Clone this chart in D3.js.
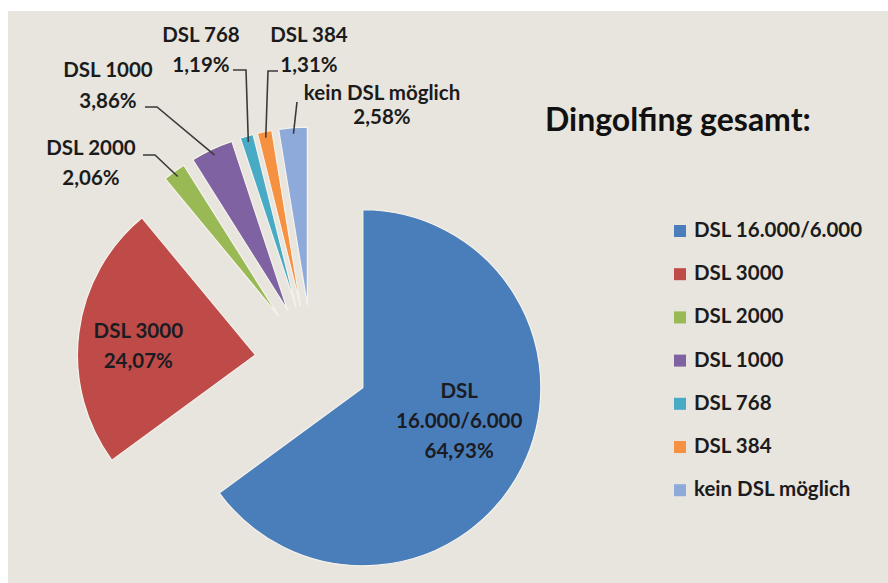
<!DOCTYPE html>
<html>
<head>
<meta charset="utf-8">
<script src="https://cdn.jsdelivr.net/npm/d3@7"></script>
<style>
  html, body { margin: 0; padding: 0; background: #fff; }
  svg text { font-family: Lato, "Open Sans", sans-serif; font-weight: bold; }
</style>
</head>
<body>
<div id="chart"></div>
<script>
// data
var categories = ["DSL 16.000/6.000", "DSL 3000", "DSL 2000", "DSL 1000", "DSL 768", "DSL 384", "kein DSL möglich"];
var shares = [64.93, 24.07, 2.06, 3.86, 1.19, 1.31, 2.58];
var shareLabels = ["64,93%", "24,07%", "2,06%", "3,86%", "1,19%", "1,31%", "2,58%"];
var colors = ["#4a7ebb", "#be4b48", "#98b954", "#7e62a1", "#47abc6", "#f69142", "#8eaadb"];
var title = "Dingolfing gesamt:";

var width = 888, height = 583;
var fontSize = 20.5;

var svg = d3.select("#chart")
    .append("svg")
    .attr("width", width)
    .attr("height", height);

// beige chart area
svg.append("rect")
    .attr("x", 8).attr("y", 11)
    .attr("width", width - 8).attr("height", height - 11)
    .attr("fill", "#e8e5de");

//pie
var cx = 312, cy = 362;
var radius = 178;
var explode = 57;

var pie = d3.pie().sort(null).value(function(d) { return d; });
var arcs = pie(shares);
var arc = d3.arc().innerRadius(0).outerRadius(radius);

function midDir(a) {
    var m = (a.startAngle + a.endAngle) / 2;
    return [Math.sin(m), -Math.cos(m)];
}

var slices = svg.append("g").attr("transform", "translate(" + cx + "," + cy + ")");

slices.selectAll("path")
    .data(arcs)
    .enter()
    .append("path")
    .attr("d", arc)
    .attr("transform", function(d) {
        var u = midDir(d);
        return "translate(" + (u[0] * explode) + "," + (u[1] * explode) + ")";
    })
    .attr("fill", function(d, i) { return colors[i]; })
    .attr("stroke", "#f6f3ed")
    .attr("stroke-width", 1.2);

// labels inside the two big slices
function innerLabel(i, lines, r, dy) {
    var u = midDir(arcs[i]);
    var x = cx + u[0] * (explode + r);
    var y = cy + u[1] * (explode + r) + dy;
    var t = svg.append("text")
        .attr("text-anchor", "middle")
        .attr("fill", "#1b1b22")
        .attr("font-size", fontSize);
    lines.forEach(function(s, k) {
        t.append("tspan").attr("x", x).attr("y", y + k * 30).text(s);
    });
}
innerLabel(0, ["DSL", "16.000/6.000", shareLabels[0]], 108, -39);
innerLabel(1, [categories[1], shareLabels[1]], 118, -2);

// outside labels for the thin slices, with leader lines
var outside = [
    {i: 2, x: 91,  y: 155, gap: 30, elbow: [[143, 155], [155, 155]]},
    {i: 3, x: 108, y: 77,  gap: 31, elbow: [[145, 107], [157, 107]]},
    {i: 4, x: 201, y: 42,  gap: 30, elbow: [[233, 70], [246, 70]]},
    {i: 5, x: 309, y: 42,  gap: 30, elbow: [[278, 71], [268, 71]]},
    {i: 6, x: 382, y: 100, gap: 24, elbow: [[297, 102]]}
];

outside.forEach(function(o) {
    var a = arcs[o.i];
    var u = midDir(a);
    var end = [cx + u[0] * (explode + radius - 6), cy + u[1] * (explode + radius - 6)];
    var pts = o.elbow.concat([end]);
    svg.append("path")
        .attr("d", d3.line()(pts))
        .attr("fill", "none")
        .attr("stroke", "#3a3a3a")
        .attr("stroke-width", 1.6);

    var t = svg.append("text")
        .attr("text-anchor", "middle")
        .attr("fill", "#1b1b1b")
        .attr("font-size", fontSize);
    t.append("tspan").attr("x", o.x).attr("y", o.y).text(categories[o.i]);
    t.append("tspan").attr("x", o.x).attr("y", o.y + o.gap).text(shareLabels[o.i]);
});

// title
svg.append("text")
    .attr("x", 545)
    .attr("y", 131)
    .attr("font-size", 32)
    .attr("fill", "#111")
    .text(title);

// legend
var legend = svg.append("g").attr("transform", "translate(674,237)");
var rows = legend.selectAll("g")
    .data(categories)
    .enter()
    .append("g")
    .attr("transform", function(d, i) { return "translate(0," + (i * 43.2) + ")"; });

rows.append("rect")
    .attr("x", 0).attr("y", -12)
    .attr("width", 12).attr("height", 12)
    .attr("fill", function(d, i) { return colors[i]; });

rows.append("text")
    .attr("x", 20)
    .attr("y", 0)
    .attr("font-size", fontSize)
    .attr("fill", "#1b1b1b")
    .text(function(d) { return d; });
</script>
</body>
</html>
